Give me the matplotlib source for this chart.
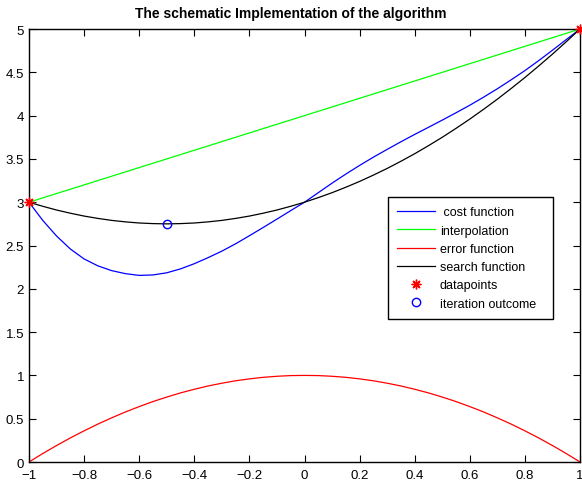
import numpy as np
import matplotlib
matplotlib.use("Agg")
import matplotlib.pyplot as plt

plt.rcParams['font.family'] = ['Liberation Sans', 'DejaVu Sans']

########################################################
# Values (x step 0.05)

x_pts = [-1.00, -0.95, -0.90, -0.85, -0.80, -0.75, -0.70, -0.65, -0.60, -0.55,
         -0.50, -0.45, -0.40, -0.35, -0.30, -0.25, -0.20, -0.15, -0.10, -0.05,
         0.00, 0.05, 0.10, 0.15, 0.20, 0.25, 0.30, 0.35, 0.40, 0.45,
         0.50, 0.55, 0.60, 0.65, 0.70, 0.75, 0.80, 0.85, 0.90, 0.95, 1.00]

cost_fn = [3.000, 2.790, 2.610, 2.460, 2.345, 2.265, 2.210, 2.175, 2.155, 2.160,
           2.185, 2.230, 2.290, 2.360, 2.435, 2.520, 2.613, 2.708, 2.805, 2.903,
           3.000, 3.110, 3.220, 3.325, 3.425, 3.520, 3.610, 3.698, 3.783, 3.865,
           3.948, 4.033, 4.120, 4.213, 4.310, 4.413, 4.520, 4.635, 4.755, 4.878, 5.000]

search_fn = [3.000, 2.953, 2.910, 2.873, 2.840, 2.813, 2.790, 2.773, 2.760, 2.753,
             2.750, 2.753, 2.760, 2.773, 2.790, 2.813, 2.840, 2.873, 2.910, 2.953,
             3.000, 3.053, 3.110, 3.173, 3.240, 3.313, 3.390, 3.473, 3.560, 3.653,
             3.750, 3.853, 3.960, 4.073, 4.190, 4.313, 4.440, 4.573, 4.710, 4.853, 5.000]

error_fn = [0.000, 0.098, 0.190, 0.278, 0.360, 0.438, 0.510, 0.578, 0.640, 0.698,
            0.750, 0.798, 0.840, 0.878, 0.910, 0.938, 0.960, 0.978, 0.990, 0.998,
            1.000, 0.998, 0.990, 0.978, 0.960, 0.938, 0.910, 0.878, 0.840, 0.798,
            0.750, 0.698, 0.640, 0.578, 0.510, 0.438, 0.360, 0.278, 0.190, 0.098, 0.000]

interp_x = [-1.0, 1.0]
interp_y = [3.0, 5.0]

data_x = [-1.0, 1.0]
data_y = [3.0, 5.0]

outcome_x = [-0.5]
outcome_y = [2.75]

xticks = [-1, -0.8, -0.6, -0.4, -0.2, 0, 0.2, 0.4, 0.6, 0.8, 1]
xticklabels = ["\u22121", "\u22120.8", "\u22120.6", "\u22120.4", "\u22120.2", "0",
               "0.2", "0.4", "0.6", "0.8", "1"]
yticks = [0, 0.5, 1, 1.5, 2, 2.5, 3, 3.5, 4, 4.5, 5]
yticklabels = ["0", "0.5", "1", "1.5", "2", "2.5", "3", "3.5", "4", "4.5", "5"]

labels = ["cost function", "interpolation", "error function", "search function",
          "datapoints", "iteration outcome"]

########################################################
fig = plt.figure(figsize=(5.82, 4.81), dpi=100)
ax = fig.add_axes([0.0498, 0.0374, 0.9468, 0.9002])

lw = 0.9
ax.plot(x_pts, cost_fn, color='#0000ff', lw=lw, label=" " + labels[0])
ax.plot(interp_x, interp_y, color='#00ff00', lw=lw, label=labels[1])
ax.plot(x_pts, error_fn, color='#ff0000', lw=lw, label=labels[2])
ax.plot(x_pts, search_fn, color='black', lw=lw, label=labels[3])
ax.plot(data_x, data_y, ls='none', marker=(8, 2, 0), ms=7, mec='#ff0000',
        mew=1.0, label=labels[4], clip_on=False, zorder=5)
ax.plot(outcome_x, outcome_y, ls='none', marker='o', ms=6, mfc='none',
        mec='#0000ff', mew=1.0, label=labels[5], zorder=5)

ax.set_xlim(-1, 1)
ax.set_ylim(0, 5)
ax.set_xticks(xticks)
ax.set_xticklabels(xticklabels)
ax.set_yticks(yticks)
ax.set_yticklabels(yticklabels)
ax.tick_params(direction='in', length=5, width=0.8, labelsize=9.5,
               top=True, right=True)
ax.tick_params(axis='x', pad=5)
for s in ax.spines.values():
    s.set_linewidth(1.0)

# MATLAB centres the title on the figure
fig.text(0.5, 0.971, "The schematic Implementation of the algorithm",
         ha='center', va='center', fontsize=10, fontweight='bold')

leg = ax.legend(loc='upper left', bbox_to_anchor=(0.6515, 0.335, 0.2995, 0.277),
                mode='expand', borderaxespad=0, fontsize=9, handlelength=3.0,
                labelspacing=0.5, fancybox=False, framealpha=1,
                edgecolor='black', borderpad=0.75, handletextpad=0.4)
leg.get_frame().set_linewidth(1.0)

fig.savefig("out.png", dpi=100)
